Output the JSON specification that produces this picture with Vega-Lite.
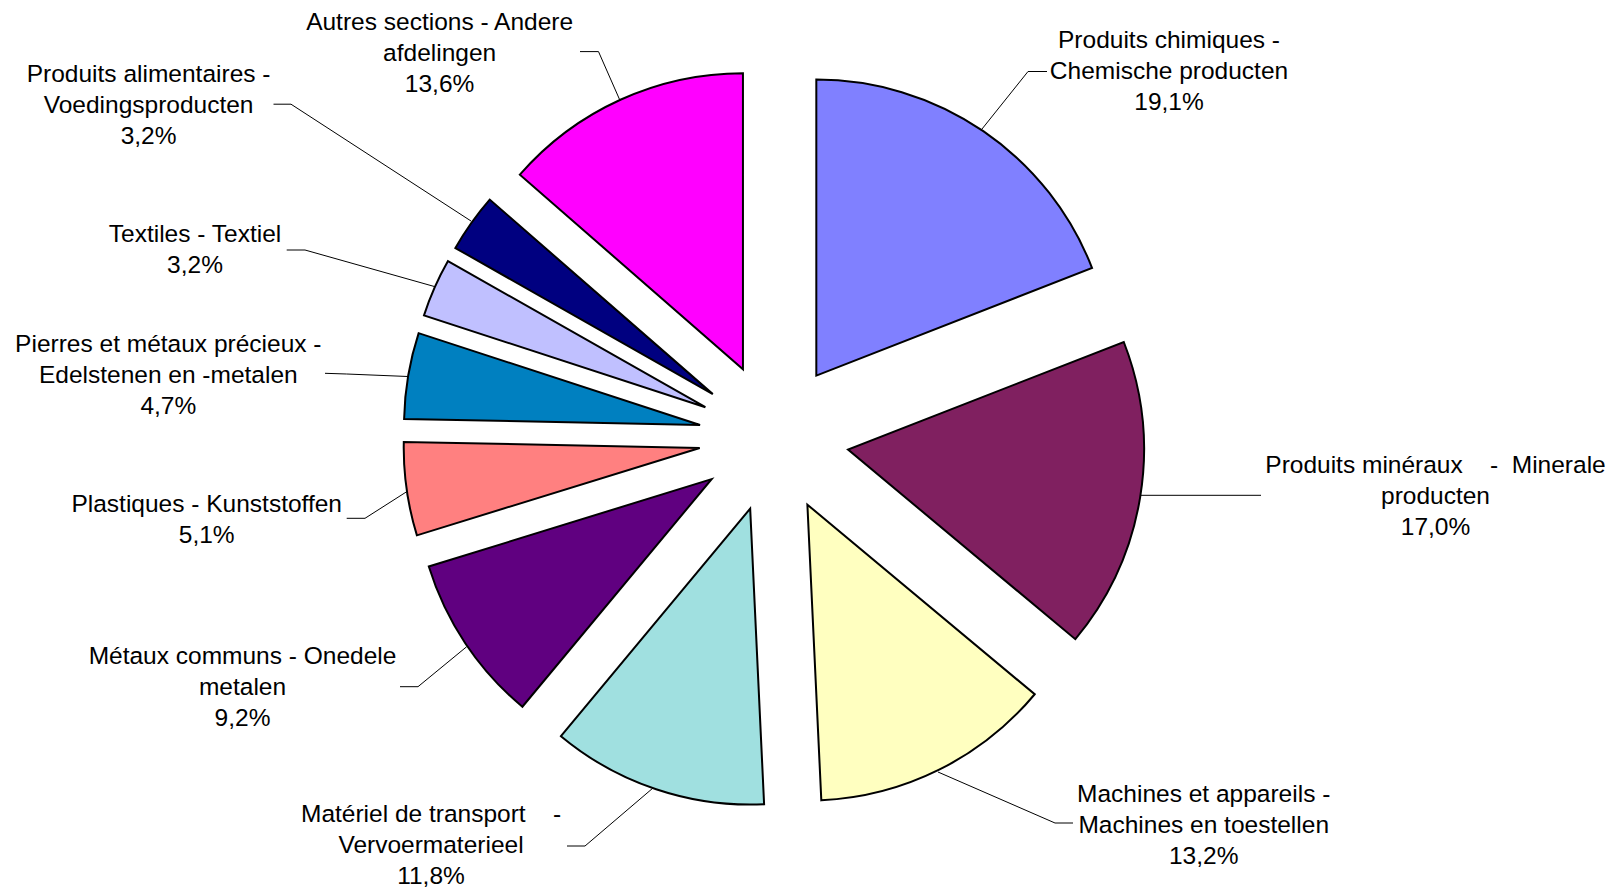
{
  "$schema": "https://vega.github.io/schema/vega-lite/v6.json",
  "width": 1618,
  "height": 892,
  "padding": 0,
  "autosize": {"type": "none"},
  "background": "white",
  "config": {"view": {"stroke": null}},
  "datasets": {
    "slices": [
      {"ord": 1, "name": "Produits chimiques - Chemische producten", "pct": 19.1},
      {"ord": 2, "name": "Produits minéraux - Minerale producten", "pct": 17.0},
      {"ord": 3, "name": "Machines et appareils - Machines en toestellen", "pct": 13.2},
      {"ord": 4, "name": "Matériel de transport - Vervoermaterieel", "pct": 11.8},
      {"ord": 5, "name": "Métaux communs - Onedele metalen", "pct": 9.2},
      {"ord": 6, "name": "Plastiques - Kunststoffen", "pct": 5.1},
      {"ord": 7, "name": "Pierres et métaux précieux - Edelstenen en -metalen", "pct": 4.7},
      {"ord": 8, "name": "Textiles - Textiel", "pct": 3.2},
      {"ord": 9, "name": "Produits alimentaires - Voedingsproducten", "pct": 3.2},
      {"ord": 10, "name": "Autres sections - Andere afdelingen", "pct": 13.6}
    ],
    "leaders": [
      {"g": "chim", "i": 0, "x": 208, "y": -308.5},
      {"g": "chim", "i": 1, "x": 254, "y": -366},
      {"g": "chim", "i": 2, "x": 273, "y": -366},
      {"g": "min", "i": 0, "x": 366, "y": 57.8},
      {"g": "min", "i": 1, "x": 420, "y": 57.8},
      {"g": "min", "i": 2, "x": 487, "y": 57.8},
      {"g": "mach", "i": 0, "x": 164, "y": 334.5},
      {"g": "mach", "i": 1, "x": 281, "y": 385.5},
      {"g": "mach", "i": 2, "x": 299, "y": 385.5},
      {"g": "trans", "i": 0, "x": -121, "y": 350.5},
      {"g": "trans", "i": 1, "x": -189, "y": 408.5},
      {"g": "trans", "i": 2, "x": -207, "y": 408.5},
      {"g": "met", "i": 0, "x": -307.3, "y": 209.2},
      {"g": "met", "i": 1, "x": -356, "y": 249.2},
      {"g": "met", "i": 2, "x": -374, "y": 249.2},
      {"g": "plast", "i": 0, "x": -367.3, "y": 54.2},
      {"g": "plast", "i": 1, "x": -409, "y": 80.8},
      {"g": "plast", "i": 2, "x": -427.3, "y": 80.8},
      {"g": "pier", "i": 0, "x": -366, "y": -61},
      {"g": "pier", "i": 1, "x": -427.3, "y": -63.5},
      {"g": "pier", "i": 2, "x": -449, "y": -64.2},
      {"g": "text", "i": 0, "x": -339, "y": -150.8},
      {"g": "text", "i": 1, "x": -469, "y": -187.5},
      {"g": "text", "i": 2, "x": -487.3, "y": -187.5},
      {"g": "alim", "i": 0, "x": -303, "y": -216.5},
      {"g": "alim", "i": 1, "x": -483, "y": -333.3},
      {"g": "alim", "i": 2, "x": -500.5, "y": -333.3},
      {"g": "autr", "i": 0, "x": -154, "y": -337},
      {"g": "autr", "i": 1, "x": -175.5, "y": -385.9},
      {"g": "autr", "i": 2, "x": -194, "y": -385.9}
    ],
    "labels": [
      {"t": "Produits chimiques -\nChemische producten\n19,1%", "x": 395, "y": -396.3},
      {"t": "Produits minéraux\u00a0\u00a0\u00a0\u00a0-\u00a0\u00a0Minerale\nproducten\n17,0%", "x": 661.5, "y": 28.9},
      {"t": "Machines et appareils -\nMachines en toestellen\n13,2%", "x": 429.7, "y": 357},
      {"t": "Matériel de transport\u00a0\u00a0\u00a0\u00a0-\nVervoermaterieel\n11,8%", "x": -343, "y": 377.6},
      {"t": "Métaux communs - Onedele\nmetalen\n9,2%", "x": -531.5, "y": 219.8},
      {"t": "Plastiques - Kunststoffen\n5,1%", "x": -567.3, "y": 67},
      {"t": "Pierres et métaux précieux -\nEdelstenen en -metalen\n4,7%", "x": -605.7, "y": -92.9},
      {"t": "Textiles - Textiel\n3,2%", "x": -579, "y": -202.3},
      {"t": "Produits alimentaires -\nVoedingsproducten\n3,2%", "x": -625.4, "y": -362.2},
      {"t": "Autres sections - Andere\nafdelingen\n13,6%", "x": -334.4, "y": -414.9}
    ]
  },
  "layer": [
    {
      "data": {"name": "slices"},
      "transform": [
        {"window": [{"op": "sum", "field": "pct", "as": "cum"}], "sort": [{"field": "ord"}], "frame": [null, 0]},
        {"joinaggregate": [{"op": "sum", "field": "pct", "as": "tot"}]},
        {"calculate": "(datum.cum - datum.pct) / datum.tot", "as": "a0"},
        {"calculate": "datum.cum / datum.tot", "as": "a1"},
        {"calculate": "(datum.a0 + datum.a1) * PI", "as": "mid"},
        {"calculate": "75 * sin(datum.mid)", "as": "ex"},
        {"calculate": "-75 * cos(datum.mid)", "as": "ey"}
      ],
      "mark": {"type": "arc", "radius": 296, "stroke": "#000000", "strokeWidth": 2, "strokeJoin": "miter"},
      "encoding": {
        "theta": {"field": "a0", "type": "quantitative", "scale": {"domain": [0, 1], "range": [0, 6.283185307179586]}},
        "theta2": {"field": "a1"},
        "x": {"field": "ex", "type": "quantitative", "scale": {"domain": [-774, 844]}, "axis": null},
        "y": {"field": "ey", "type": "quantitative", "scale": {"domain": [-437.5, 454.5], "reverse": true}, "axis": null},
        "color": {
          "field": "name",
          "type": "nominal",
          "legend": null,
          "scale": {
            "domain": [
              "Produits chimiques - Chemische producten",
              "Produits minéraux - Minerale producten",
              "Machines et appareils - Machines en toestellen",
              "Matériel de transport - Vervoermaterieel",
              "Métaux communs - Onedele metalen",
              "Plastiques - Kunststoffen",
              "Pierres et métaux précieux - Edelstenen en -metalen",
              "Textiles - Textiel",
              "Produits alimentaires - Voedingsproducten",
              "Autres sections - Andere afdelingen"
            ],
            "range": ["#8080FF", "#802060", "#FFFFC0", "#A0E0E0", "#600080", "#FF8080", "#0080C0", "#C0C0FF", "#000080", "#FF00FF"]
          }
        }
      }
    },
    {
      "data": {"name": "leaders"},
      "mark": {"type": "line", "color": "#000000", "strokeWidth": 1},
      "encoding": {
        "x": {"field": "x", "type": "quantitative", "scale": {"domain": [-774, 844]}, "axis": null},
        "y": {"field": "y", "type": "quantitative", "scale": {"domain": [-437.5, 454.5], "reverse": true}, "axis": null},
        "detail": {"field": "g", "type": "nominal"},
        "order": {"field": "i", "type": "quantitative"}
      }
    },
    {
      "data": {"name": "labels"},
      "mark": {"type": "text", "lineBreak": "\n", "font": "Liberation Sans", "fontSize": 24.5, "lineHeight": 31, "align": "center", "baseline": "middle", "color": "#000000"},
      "encoding": {
        "x": {"field": "x", "type": "quantitative", "scale": {"domain": [-774, 844]}, "axis": null},
        "y": {"field": "y", "type": "quantitative", "scale": {"domain": [-437.5, 454.5], "reverse": true}, "axis": null},
        "text": {"field": "t", "type": "nominal"}
      }
    }
  ]
}
